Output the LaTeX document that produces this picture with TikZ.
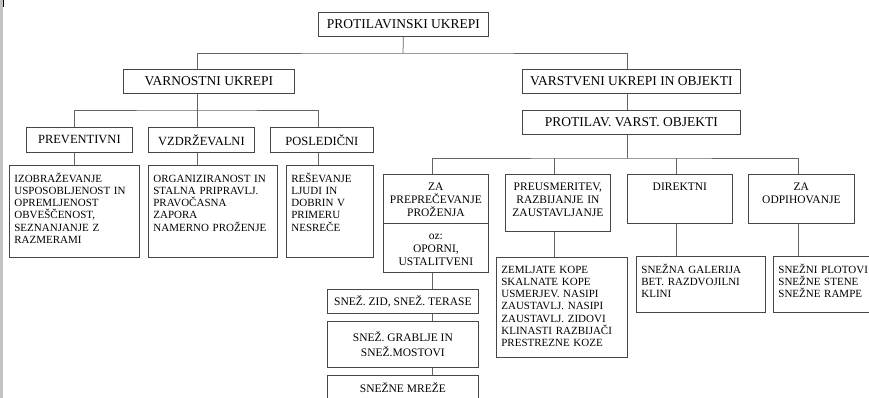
\documentclass[tikz,border=0pt]{standalone}
\usepackage{fontspec}
\setmainfont{Liberation Serif}
\usetikzlibrary{positioning}
\definecolor{boxcolor}{RGB}{70,70,70}
\definecolor{linkcolor}{RGB}{100,100,100}
\definecolor{margincolor}{RGB}{195,195,195}

\begin{document}
\begin{tikzpicture}[
    x=1pt, y=-1pt,
    box/.style 2 args={rectangle, draw=boxcolor, line width=0.75pt, anchor=north west, inner sep=0pt, minimum width=#1, minimum height=#2, align=center},
    head/.style 2 args={box={#1}{#2}, font=\fontsize{13.5}{16}\selectfont},
    branch/.style 2 args={box={#1}{#2}, font=\fontsize{12.5}{15}\selectfont},
    stack/.style 2 args={box={#1}{#2}, font=\fontsize{11.5}{15}\selectfont},
    kind/.style n args={3}{rectangle, draw=boxcolor, line width=0.75pt, anchor=north west, inner xsep=4pt, inner ysep=0pt, text width=#1, text height=#2, text depth=#3, align=center, font=\fontsize{11.5}{13}\selectfont},
    list/.style n args={3}{kind={#1}{#2}{#3}, inner xsep=5pt, align=left, font=\fontsize{11}{12.2}\selectfont},
    link/.style={draw=linkcolor, line width=0.75pt}
]

\useasboundingbox (0,0) rectangle (869,398);
\clip (0,0) rectangle (869,398);

% Page margin
\fill[margincolor] (0,0) rectangle (3,398);
\draw[line width=1pt] (3.5,0) -- (3.5,7);

% Top levels
\node[head={170pt}{24pt}] (top) at (318,12) {PROTILAVINSKI UKREPI};
\node[head={171pt}{24pt}] (varn) at (123,69) {VARNOSTNI UKREPI};
\node[head={218pt}{24pt}] (varst) at (522,69) {VARSTVENI UKREPI IN OBJEKTI};
\node[head={218pt}{24pt}] (objekti) at (522,110) {PROTILAV. VARST. OBJEKTI};

% Varnostni ukrepi
\node[branch={106pt}{25pt}] (prev) at (26,127) {PREVENTIVNI};
\node[branch={106pt}{25pt}] (vzdr) at (148,127) {VZDRŽEVALNI};
\node[branch={103pt}{25pt}] (posl) at (270,127) {POSLEDIČNI};

\node[list={120pt}{17pt}{75pt}] (prevd) at (9,165) {IZOBRAŽEVANJE\\USPOSOBLJENOST~IN\\OPREMLJENOST\\OBVEŠČENOST,\\SEZNANJANJE~Z\\RAZMERAMI};
\node[list={119pt}{17pt}{75pt}] (vzdrd) at (148,165) {ORGANIZIRANOST~IN\\STALNA~PRIPRAVLJ.\\PRAVOČASNA\\ZAPORA\\NAMERNO~PROŽENJE};
\node[list={77pt}{17pt}{75pt}] (posld) at (286,165) {REŠEVANJE\\LJUDI~IN\\DOBRIN~V\\PRIMERU\\NESREČE};

% Protilavinski varstveni objekti
\node[kind={97pt}{16pt}{33pt}] (prepr) at (383,174) {ZA\\PREPREČEVANJE\\PROŽENJA};
\node[kind={97pt}{16pt}{33pt}] (preprb) at (383,223) {oz:\\OPORNI,\\USTALITVENI};
\node[kind={97pt}{16pt}{41pt}] (preus) at (505,174) {PREUSMERITEV,\\RAZBIJANJE~IN\\ZAUSTAVLJANJE};
\node[kind={97pt}{16pt}{33pt}] (dir) at (627,174) {DIREKTNI};
\node[kind={98pt}{16pt}{33pt}] (odp) at (748,174) {ZA\\ODPIHOVANJE};

\node[stack={151pt}{24pt}] (zid) at (327,289) {SNEŽ. ZID, SNEŽ. TERASE};
\node[stack={151pt}{46pt}] (grab) at (327,321) {SNEŽ. GRABLJE IN\\SNEŽ.MOSTOVI};
\node[stack={151pt}{25pt}] (mreze) at (327,375) {SNEŽNE MREŽE};

\node[list={121pt}{16pt}{84pt}] (preusd) at (496,257) {ZEMLJATE~KOPE\\SKALNATE~KOPE\\USMERJEV.~NASIPI\\ZAUSTAVLJ.~NASIPI\\ZAUSTAVLJ.~ZIDOVI\\KLINASTI~RAZBIJAČI\\PRESTREZNE~KOZE};
\node[list={119pt}{17pt}{39pt}] (dird) at (636,256) {SNEŽNA~GALERIJA\\BET.~RAZDVOJILNI\\KLINI};
\node[list={93pt}{17pt}{39pt}] (odpd) at (773,256) {SNEŽNI~PLOTOVI\\SNEŽNE~STENE\\SNEŽNE~RAMPE};

% Connectors
\coordinate (bus1) at (403,53);
\coordinate (bus2) at (197,110);
\coordinate (bus3) at (627,158);
\coordinate (prevx) at (74,0);
\coordinate (poslx) at (318,0);
\coordinate (preprx) at (432,0);
\coordinate (preusx) at (554,0);
\coordinate (dirx) at (676,0);
\coordinate (odpx) at (798,0);

\draw[link] (top.south) -- (bus1);
\draw[link] (varn.north -| bus2) |- (bus1) -| (varst.north -| bus3);

\draw[link] (varn.south -| bus2) -- (vzdr.north -| bus2);
\draw[link] (prev.north -| prevx) |- (bus2) -| (posl.north -| poslx);
\draw[link] (prev.south -| prevx) -- (prevd.north -| prevx);
\draw[link] (vzdr.south -| bus2) -- (vzdrd.north -| bus2);
\draw[link] (posl.south -| poslx) -- (posld.north -| poslx);

\draw[link] (varst.south -| bus3) -- (objekti.north -| bus3);
\draw[link] (objekti.south -| bus3) -- (bus3);
\draw[link] (prepr.north -| preprx) |- (bus3) -| (odp.north -| odpx);
\draw[link] (preus.north -| preusx) -- (bus3 -| preusx);
\draw[link] (dir.north -| dirx) -- (bus3 -| dirx);

\draw[link] (preprb.south -| preprx) -- (zid.north -| preprx);
\draw[link] (zid.south -| preprx) -- (grab.north -| preprx);
\draw[link] (grab.south -| preprx) -- (mreze.north -| preprx);
\draw[link] (preus.south -| preusx) -- (preusd.north -| preusx);
\draw[link] (dir.south -| dirx) -- (dird.north -| dirx);
\draw[link] (odp.south -| odpx) -- (odpd.north -| odpx);

\end{tikzpicture}
\end{document}
